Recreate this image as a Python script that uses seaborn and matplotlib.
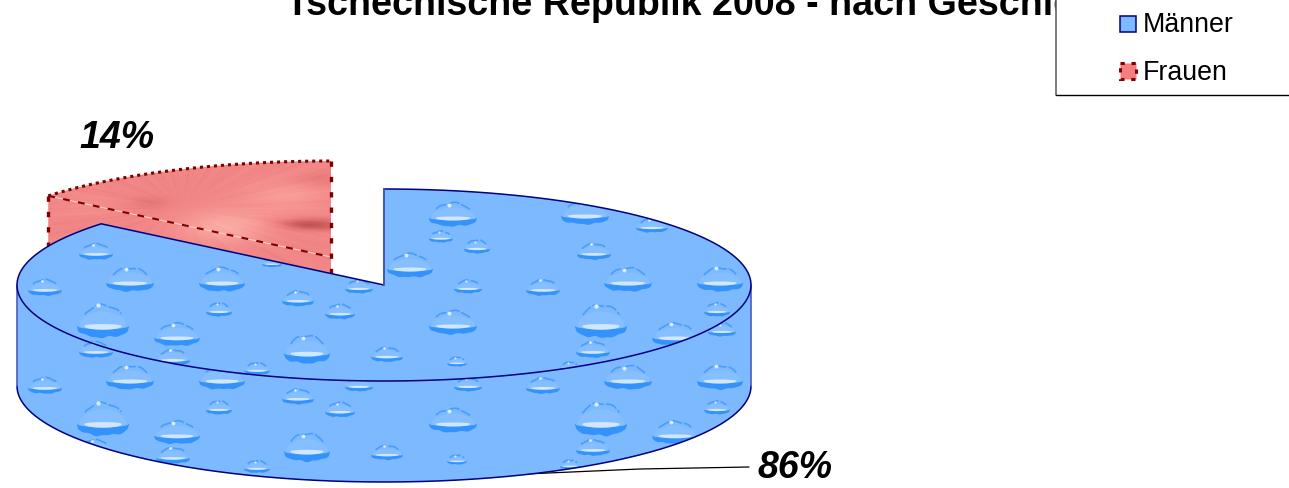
import numpy as np
import matplotlib
matplotlib.use("Agg")
import matplotlib.pyplot as plt
from matplotlib.colors import LinearSegmentedColormap
from matplotlib.patches import Polygon, Rectangle
import seaborn as sns

# Shares of men and women, in percent
genders = ["Männer", "Frauen"]
shares = [86, 14]
title = "Tschechische Republik 2008 - nach Geschlecht"

sns.set_theme(style="white")
plt.rcParams["font.family"] = ["Liberation Sans", "DejaVu Sans"]
blue, navy, rim, red, maroon = sns.color_palette(
    ["#7db9ff", "#000080", "#4a5cc0", "#f08484", "#800000"])

# Disc geometry in pixel units
CX, CY, RX, RY, DEPTH = 384, 285, 367, 96, 101
APEX_X, APEX_Y = 331, 257   # centre of the pulled-out slice
TEXTURE_DROP = 98           # vertical shift of the droplet texture on the rim
TILE = 498                  # horizontal repeat of the droplet texture

# Droplet texture: x, y, half-width, height factor
droplets = [
    (96, 252, 17, 1.0), (130, 280, 24, 1.05), (45, 288, 17, 1.0), (222, 280, 23, 1.1),
    (219, 310, 13, 1.1), (103, 322, 26, 1.35), (177, 335, 23, 1.05), (95, 350, 17, 1.0),
    (173, 358, 17, 1.0), (453, 215, 24, 1.05), (87, 213, 24, 1.05), (154, 226, 16, 0.9),
    (441, 237, 12, 1.0), (477, 247, 13, 1.1), (410, 266, 23, 1.1), (272, 263, 10, 0.9),
    (359, 287, 14, 1.0), (468, 287, 14, 1.0), (298, 299, 16, 1.0), (340, 312, 15, 1.05),
    (453, 323, 24, 1.05), (307, 350, 23, 1.3), (387, 355, 16, 0.95), (457, 362, 10, 1.0),
    (257, 369, 13, 1.0), (72, 367, 10, 1.0), (224, 232, 14, 1.0),
]


def rim_point(cx, cy, turn):
    """Point on the ellipse; turn runs clockwise from 12 o'clock, 1 = full circle."""
    t = 2 * np.pi * np.asarray(turn)
    return cx + RX * np.sin(t), cy - RY * np.cos(t)


def arc(cx, cy, start, stop, n=200):
    x, y = rim_point(cx, cy, np.linspace(start, stop, n))
    return np.column_stack([x, y])


def droplet_parts(px, py, w, h):
    """Flat drop: dark crescent below, pale lens above it, thin broken arc on top."""
    u = np.linspace(-1, 1, 41)
    dome = np.sqrt(1 - u ** 2)
    rough = 1 + 0.07 * np.sin(7 * u + px * 0.7) + 0.05 * np.sin(13 * u + py)
    floor = py + 0.14 * h
    outer = floor + 0.30 * h * dome ** 0.8 * rough
    inner = floor - 0.03 * h + 0.10 * h * dome
    crescent = np.vstack([np.column_stack([px + w * u, outer]),
                          np.column_stack([px + w * u, inner])[::-1]])
    lens = np.vstack([np.column_stack([px + 0.72 * w * u, inner + 0.01 * h]),
                      np.column_stack([px + 0.72 * w * u, inner - 0.15 * h * dome])[::-1]])
    haze = np.column_stack([px + 0.92 * w * np.r_[u, u[::-1]],
                            np.r_[floor - 0.44 * h * dome, (floor + 0.05 * h * dome)[::-1]]])
    cap = np.linspace(-0.82, 0.82, 25)
    top_y = floor - 0.62 * h * np.sqrt(1 - cap ** 2) * (1 + 0.05 * np.sin(7 * cap + px))
    return haze, crescent, lens, px + 0.86 * w * cap, top_y


def draw_droplets(ax, clip, z, dy=0):
    for x, y, w, tall in droplets:
        for k in (0, 1):
            haze, crescent, lens, cap_x, cap_y = droplet_parts(x + k * TILE, y + dy, w, w * tall)
            artists = [
                ax.add_patch(Polygon(haze, closed=True, fc="#86bfff", ec="none", zorder=z)),
                ax.add_patch(Polygon(crescent, closed=True, fc="#3392fb", ec="none", zorder=z)),
                ax.add_patch(Polygon(lens, closed=True, fc="#d0e7ff", ec="none", zorder=z)),
                ax.plot(cap_x, cap_y, color="#4a9dfc", lw=1.2, linestyle=(0, (7, 1.2)), zorder=z)[0],
                ax.plot([cap_x[9]], [cap_y[9] + 0.8], marker="o", ms=max(1.5, w * 0.12),
                        mfc="#dcedff", mec="none", zorder=z)[0],
            ]
            for artist in artists:
                artist.set_clip_path(clip)


def streak_texture(x0, x1, y0, y1):
    """Radial streaks with a few soft light and dark patches."""
    xx, yy = np.meshgrid(np.arange(x0, x1), np.arange(y0, y1))
    theta = np.arctan2((yy - 208) * 1.6, xx - 182)
    r = np.hypot(xx - 182, (yy - 208) * 1.6)
    streaks = sum(np.sin(f * theta + p) / f ** 0.5
                  for f, p in [(23, 0.4), (41, 1.9), (67, 3.1), (97, 0.8), (131, 2.2)])
    tex = 0.52 + 0.09 * streaks * np.clip(r / 50, 0, 1)
    for bx, by, sx, sy, amp in [(225, 226, 44, 16, 0.38), (285, 196, 44, 16, 0.22),
                                (310, 224, 32, 6, -0.45), (150, 202, 20, 7, -0.14),
                                (320, 180, 26, 7, -0.12), (90, 205, 30, 12, 0.08)]:
        tex += amp * np.exp(-((xx - bx) / sx) ** 2 - ((yy - by) / sy) ** 2)
    return tex


fig = plt.figure(figsize=(12.89, 4.88), dpi=100)
ax = fig.add_axes([0, 0, 1, 1])

m_share, f_share = np.array(shares) / sum(shares)

# Title sits behind the legend panel and runs off the top edge
ax.text(286, 15, title, ha="left", va="baseline", fontsize=27.1, fontweight="bold", color="black")

# Pulled-out slice for women
f_start, f_stop = 1 - f_share, 1.0
f_top = arc(APEX_X, APEX_Y, f_start, f_stop)
f_outline = np.vstack([[APEX_X, APEX_Y], f_top])
f_front = np.array([f_top[0], [APEX_X, APEX_Y],
                    [APEX_X, APEX_Y + DEPTH], f_top[0] + [0, DEPTH]])
cmap = LinearSegmentedColormap.from_list("slice", ["#c04e4e", "#f08484", "#ffb4ac"])
x0, x1, y0, y1 = 30, 340, 150, 370
for verts in (f_outline, f_front):
    shape = Polygon(verts, closed=True, fc="none", ec="none", zorder=0.5)
    ax.add_patch(shape)
    img = ax.imshow(streak_texture(x0, x1, y0, y1), extent=(x0, x1, y1, y0), zorder=0.6,
                    cmap=cmap, vmin=0, vmax=1, aspect="auto", interpolation="bilinear")
    img.set_clip_path(shape)
ax.plot(f_top[:, 0], f_top[:, 1], color=maroon, lw=2.2, linestyle=(0, (1.0, 1.3)))
ax.plot([f_top[0, 0], APEX_X], [f_top[0, 1], APEX_Y], color="#ffd0d0", lw=0.7)
ax.plot([f_top[0, 0], APEX_X], [f_top[0, 1], APEX_Y], color=maroon, lw=1.5, linestyle=(0, (3.3, 4.0)))
ax.plot([APEX_X, APEX_X], [APEX_Y - RY, APEX_Y + 20], color=maroon, lw=2.4, linestyle=(0, (1.6, 3.0)))
ax.plot([f_top[0, 0]] * 2, [f_top[0, 1], f_top[0, 1] + 60], color=maroon, lw=2.4, linestyle=(0, (1.6, 3.0)))

# Rim of the large slice for men
lead_x, lead_y = rim_point(CX, CY + DEPTH, 0.44)
ax.plot([lead_x, 640, 749], [lead_y - 1, 469, 467], color="black", lw=0.9, zorder=1)
front = arc(CX, CY, 0.25, 0.75)
side = np.vstack([front, (front + [0, DEPTH])[::-1]])
side_patch = Polygon(side, closed=True, fc=blue, ec="none", zorder=2)
ax.add_patch(side_patch)
draw_droplets(ax, side_patch, 2.1, dy=TEXTURE_DROP)
low = front + [0, DEPTH]
ax.plot(low[:, 0], low[:, 1], color=navy, lw=1.1, zorder=2.5)
for x in (CX - RX, CX + RX):
    ax.plot([x, x], [CY, CY + DEPTH], color=rim, lw=1.2, zorder=2.5)

# Top face of the large slice
top = np.vstack([[CX, CY], arc(CX, CY, 0, m_share)])
top_patch = Polygon(top, closed=True, fc=blue, ec="none", zorder=3)
ax.add_patch(top_patch)
draw_droplets(ax, top_patch, 3.1)
ax.add_patch(Polygon(top, closed=True, fc="none", ec=navy, lw=1.1, zorder=3.5))
ax.plot([CX, CX], [CY - RY, CY], color=rim, lw=1.3, zorder=3.6)

# Percentage labels
label_style = dict(fontsize=27, fontweight="bold", fontstyle="italic", color="black",
                   va="center", ha="left", zorder=5)
ax.text(757, 468, f"{shares[0]}%", **label_style)
ax.text(79, 138, f"{shares[1]}%", **label_style)

# Legend panel
ax.add_patch(Rectangle((1056, -2), 240, 97, fc="white", ec="none", zorder=6))
ax.plot([1056, 1056], [0, 95], color="#666666", lw=1.2, zorder=7)
ax.plot([1056, 1289], [95, 95], color="black", lw=1.0, zorder=7)
ax.add_patch(Rectangle((1120, 15.5), 16, 16, fc=blue, ec=navy, lw=1.1, zorder=7))
ax.add_patch(Rectangle((1120, 63), 16, 16, fc="#f47f7f", ec=maroon, lw=2.2,
                       linestyle=(0, (1.4, 2.2)), zorder=7))
for name, y in zip(genders, (25, 73)):
    ax.text(1143, y, name, fontsize=19.3, color="black", va="center", ha="left", zorder=7)

ax.set_xlim(0, 1289)
ax.set_ylim(488, 0)
ax.axis("off")

fig.savefig("out.png", dpi=100, facecolor="white")
